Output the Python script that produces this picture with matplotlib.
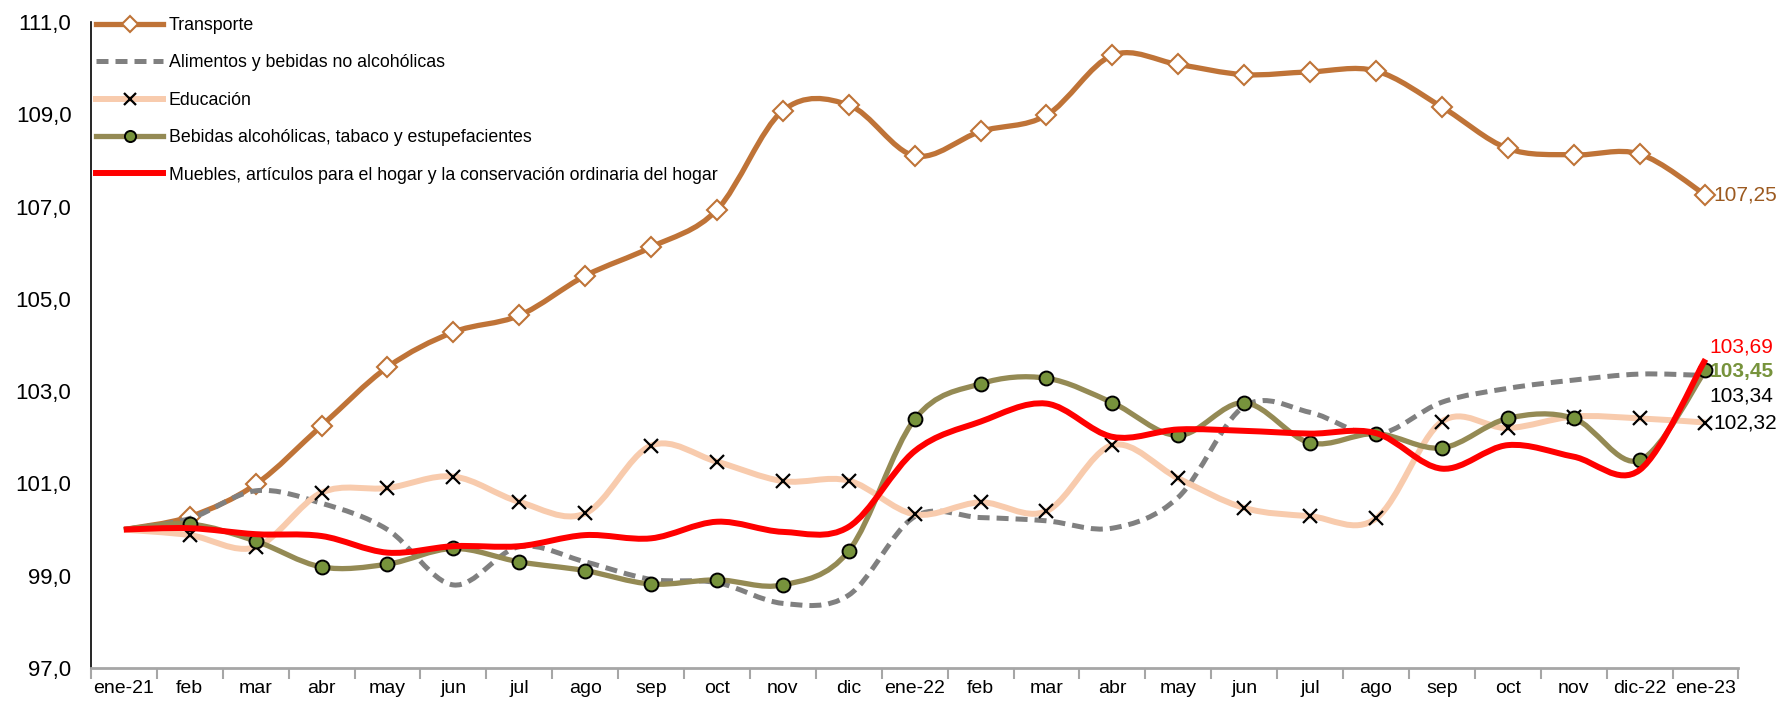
import numpy as np
import matplotlib
matplotlib.use('Agg')
import matplotlib.pyplot as plt
from matplotlib.path import Path
from matplotlib.patches import PathPatch
from matplotlib.lines import Line2D

plt.rcParams['font.family'] = ['Liberation Sans', 'DejaVu Sans']

# Datos (índice, ene-21 = 100)
meses = ['ene-21', 'feb', 'mar', 'abr', 'may', 'jun', 'jul', 'ago', 'sep', 'oct', 'nov', 'dic',
         'ene-22', 'feb', 'mar', 'abr', 'may', 'jun', 'jul', 'ago', 'sep', 'oct', 'nov', 'dic-22', 'ene-23']

transporte = [100.0, 100.28, 100.98, 102.25, 103.52, 104.28, 104.64, 105.5, 106.12, 106.93, 109.08, 109.2,
              108.1, 108.63, 108.98, 110.28, 110.08, 109.86, 109.92, 109.94, 109.16, 108.26, 108.12, 108.14, 107.25]
alimentos = [100.0, 100.24, 100.84, 100.57, 100.0, 98.8, 99.63, 99.3, 98.92, 98.85, 98.4, 98.58,
             100.28, 100.26, 100.19, 100.03, 100.7, 102.67, 102.54, 102.06, 102.76, 103.06, 103.24, 103.37, 103.34]
educacion = [100.0, 99.88, 99.62, 100.8, 100.9, 101.15, 100.6, 100.35, 101.82, 101.47, 101.05, 101.06,
             100.33, 100.59, 100.4, 101.83, 101.11, 100.47, 100.29, 100.24, 102.34, 102.2, 102.45, 102.41, 102.32]
bebidas = [100.0, 100.12, 99.75, 99.19, 99.25, 99.59, 99.3, 99.11, 98.82, 98.91, 98.8, 99.54,
           102.39, 103.16, 103.28, 102.75, 102.04, 102.75, 101.88, 102.08, 101.77, 102.41, 102.41, 101.5, 103.45]
muebles = [100.0, 100.03, 99.9, 99.86, 99.5, 99.64, 99.64, 99.88, 99.81, 100.17, 99.95, 100.06,
           101.7, 102.34, 102.73, 102.01, 102.17, 102.14, 102.08, 102.09, 101.32, 101.83, 101.58, 101.29, 103.69]

nombres = ['Transporte', 'Alimentos y bebidas no alcohólicas', 'Educación',
           'Bebidas alcohólicas, tabaco y estupefacientes',
           'Muebles, artículos para el hogar y la conservación ordinaria del hogar']

c_trans = '#BF7337'
c_alim = '#808080'
c_edu = '#F8CBAD'
c_beb = '#948A54'
c_beb_mk = '#77933C'
c_mueb = '#FF0000'


#Linea suavizada estilo Excel (Bezier)
def suave(x, y):
    p = np.column_stack([x, y]).astype(float)
    n = len(p)
    verts = [p[0]]
    codes = [Path.MOVETO]
    for i in range(n - 1):
        p0 = p[i - 1] if i > 0 else p[i]
        p3 = p[i + 2] if i + 2 < n else p[i + 1]
        c1 = p[i] + (p[i + 1] - p0) / 6
        c2 = p[i + 1] - (p3 - p[i]) / 6
        verts += [c1, c2, p[i + 1]]
        codes += [Path.CURVE4] * 3
    return Path(verts, codes)


fig = plt.figure(figsize=(17.83, 7.11), dpi=100)
ax = fig.add_axes([0.051, 0.0605, 0.924, 0.9085])

x = np.arange(len(meses))

series = [
    (transporte, c_trans, 3.8, '-', dict(marker='D', ms=10, mfc='white', mec=c_trans, mew=1.5)),
    (alimentos, c_alim, 3.6, (0, (2.4, 1.4)), None),
    (educacion, c_edu, 4.3, '-', dict(marker='x', ms=10, mfc='none', mec='black', mew=1.6)),
    (bebidas, c_beb, 3.8, '-', dict(marker='o', ms=10, mfc=c_beb_mk, mec='black', mew=1.4)),
    (muebles, c_mueb, 4.3, '-', None),
]

handles = []
for i, (vals, col, lw, ls, mk) in enumerate(series):
    patch = PathPatch(suave(x, vals), fill=False, edgecolor=col, lw=lw, linestyle=ls,
                      capstyle='butt', joinstyle='round', zorder=2 + i)
    ax.add_patch(patch)
    if mk is not None:
        ax.plot(x[1:], np.array(vals)[1:], linestyle='none', zorder=2.5 + i, **mk)
        handles.append(Line2D([], [], color=col, lw=lw, linestyle=ls,
                              marker=mk['marker'], ms=8, mfc=mk['mfc'], mec=mk['mec'], mew=mk['mew']))
    else:
        handles.append(Line2D([], [], color=col, lw=lw, linestyle=ls))

ax.set_xlim(-0.5, len(meses) - 0.5)
ax.set_ylim(97, 111)
ax.set_yticks(np.arange(97, 112, 2))
ax.set_yticklabels([f'{v:.1f}'.replace('.', ',') for v in np.arange(97, 112, 2)])
ax.tick_params(axis='y', length=0, pad=14, labelsize=16)

ax.set_xticks(x)
ax.set_xticklabels(meses)
ax.set_xticks(np.arange(-0.5, len(meses), 1), minor=True)
ax.tick_params(axis='x', which='major', length=0, pad=9, labelsize=14)
ax.tick_params(axis='x', which='minor', length=8, width=1.5, color='#A6A6A6')

ax.spines['top'].set_visible(False)
ax.spines['right'].set_visible(False)
ax.spines['bottom'].set_color('#A6A6A6')
ax.spines['bottom'].set_linewidth(2)
ax.spines['left'].set_color('black')
ax.spines['left'].set_linewidth(1.2)

#Etiquetas finales
ult = len(meses) - 1
fs_fin = 15
ax.annotate('107,25', (ult, transporte[-1]), xytext=(6, 0), textcoords='offset points',
            va='center', ha='left', fontsize=fs_fin, color='#9C5A20')
ax.annotate('103,69', (ult, muebles[-1]), xytext=(3, 9), textcoords='offset points',
            va='center', ha='left', fontsize=fs_fin, color='#FF0000')
ax.annotate('103,45', (ult, bebidas[-1]), xytext=(3, -1), textcoords='offset points',
            va='center', ha='left', fontsize=fs_fin, color=c_beb_mk, fontweight='bold')
ax.annotate('103,34', (ult, alimentos[-1]), xytext=(3, -15), textcoords='offset points',
            va='center', ha='left', fontsize=fs_fin, color='black')
ax.annotate('102,32', (ult, educacion[-1]), xytext=(6, 0), textcoords='offset points',
            va='center', ha='left', fontsize=fs_fin, color='black')

leg = ax.legend(handles, nombres, loc='upper left', bbox_to_anchor=(0.003, 1.008), frameon=False,
                fontsize=12.8, handlelength=3.8, handletextpad=0.3, labelspacing=1.15, borderpad=0,
                borderaxespad=0)

fig.savefig('out.png', dpi=100)
